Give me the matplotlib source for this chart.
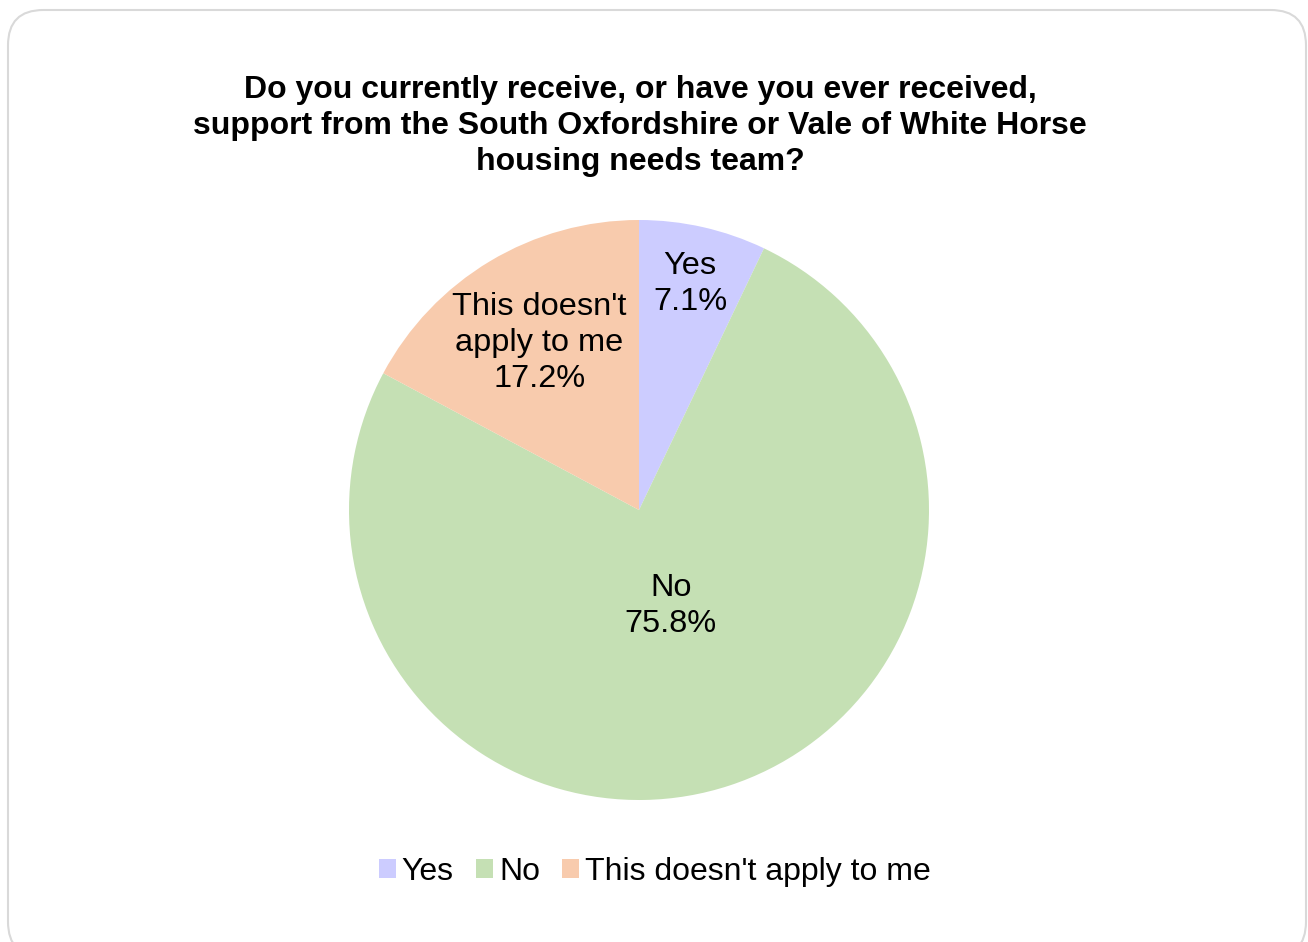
import numpy as np
import matplotlib.pyplot as plt
from matplotlib.patches import FancyBboxPatch

plt.rcParams['font.family'] = ['Liberation Sans', 'DejaVu Sans']

categories = ["Yes", "No", "This doesn't apply to me"]
label_text = ["Yes", "No", "This doesn't\napply to me"]
shares = [7.1, 75.8, 17.2]
colors = ["#ccccff", "#c5e0b4", "#f8cbad"]
label_dist = [0.80, 0.35, 0.67]  # how far out each label sits (fraction of radius)

fig = plt.figure(figsize=(13.08, 9.42), dpi=100)

# rounded border round the chart area (runs off the bottom of the image)
border = FancyBboxPatch((8 / 1308, -15 / 942), 1298 / 1308, 947 / 942,
                        boxstyle="round,pad=0,rounding_size=0.027",
                        transform=fig.transFigure, facecolor="none",
                        edgecolor="#d9d9d9", linewidth=1.5,
                        mutation_aspect=1308 / 942, zorder=-1)
fig.patches.append(border)

ax = fig.add_axes([349 / 1308, 142 / 942, 580 / 1308, 580 / 942])
wedges, _ = ax.pie(shares, colors=colors, startangle=90, counterclock=False,
                   wedgeprops=dict(linewidth=0))
ax.set_xlim(-1, 1)
ax.set_ylim(-1, 1)
ax.set_aspect("equal")

for w, txt, val, d in zip(wedges, label_text, shares, label_dist):
    mid = np.deg2rad((w.theta1 + w.theta2) / 2)
    ax.text(d * np.cos(mid), d * np.sin(mid), f"{txt}\n{val:.1f}%",
            ha="center", va="center", fontsize=23.4, linespacing=1.26)

fig.text(640 / 1308, 1 - 126 / 942,
         "Do you currently receive, or have you ever received,\n"
         "support from the South Oxfordshire or Vale of White Horse\n"
         "housing needs team?",
         ha="center", va="center", fontsize=23, fontweight="bold", linespacing=1.28)

fig.legend(wedges, categories, loc="center", bbox_to_anchor=(655 / 1308, 1 - 872 / 942),
           ncol=3, frameon=False, fontsize=23, handlelength=0.53, handleheight=0.53,
           handletextpad=0.19, columnspacing=0.7)

fig.savefig("out.png", dpi=100)
